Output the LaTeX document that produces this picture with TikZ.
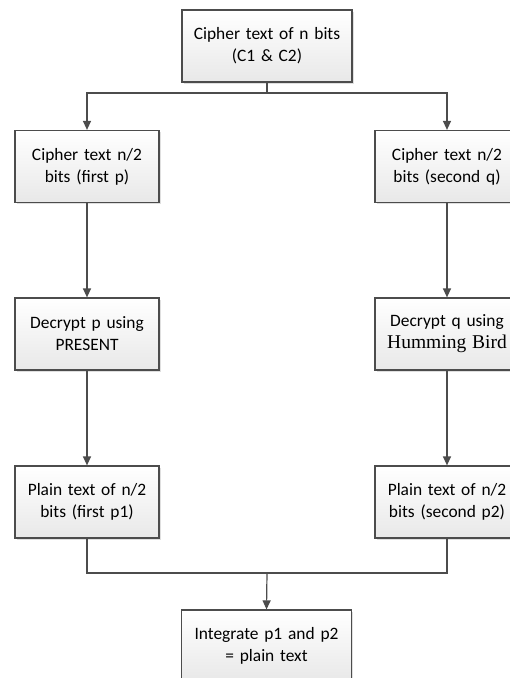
\documentclass[tikz,border=0pt]{standalone}
\usepackage{fontspec}
\setmainfont{Carlito}
\newfontfamily\hbfont{Liberation Serif}
\usetikzlibrary{arrows.meta,shadows}
\begin{document}
\begin{tikzpicture}[x=1pt,y=-1pt,
  box/.style={draw=black!70, line width=1.2pt, top color=white, bottom color=black!9,
    minimum height=72pt, inner sep=0pt, align=center,
    drop shadow={opacity=0.25, shadow xshift=1.5pt, shadow yshift=-1.5pt},
    font=\fontsize{17.4}{22}\selectfont},
  colbox/.style={box, minimum width=144pt, text width=142pt},
  wide/.style={box, minimum width=170pt, text width=168pt},
  conn/.style={draw=black!70, line width=1.2pt},
  arr/.style={conn, -{Triangle[width=8pt,length=9pt]}}]
\useasboundingbox (0,0) rectangle (510,678);
\clip (0,0) rectangle (510,678);
\node[wide] (top) at (267,46) {Cipher text of n bits\\(C1 \& C2)};
\node[colbox] (c1) at (87,166.5) {Cipher text n/2\\bits (first p)};
\node[colbox] (c2) at (447,166.5) {Cipher text n/2\\bits (second q)};
\node[colbox] (d1) at (87,334) {Decrypt p using\\PRESENT};
\node[colbox] (d2) at (447,334) {Decrypt q using\\{\hbfont\fontsize{19.5}{22}\selectfont Humming Bird}};
\node[colbox] (p1) at (87,502) {Plain text of n/2\\bits (first p1)};
\node[colbox] (p2) at (447,502) {Plain text of n/2\\bits (second p2)};
\node[wide] (fin) at (266.5,646) {Integrate p1 and p2\\= plain text};
\coordinate (split) at (267,93);
\coordinate (join) at (267,573);
\draw[conn] (top.south) -- (split);
\draw[arr] (split) -| (c1.north);
\draw[arr] (split) -| (c2.north);
\draw[arr] (c1) -- (d1);
\draw[arr] (c2) -- (d2);
\draw[arr] (d1) -- (p1);
\draw[arr] (d2) -- (p2);
\draw[conn] (p1.south) |- (join);
\draw[conn] (p2.south) |- (join);
\draw[arr] (join) -- (fin.north);
\end{tikzpicture}
\end{document}
